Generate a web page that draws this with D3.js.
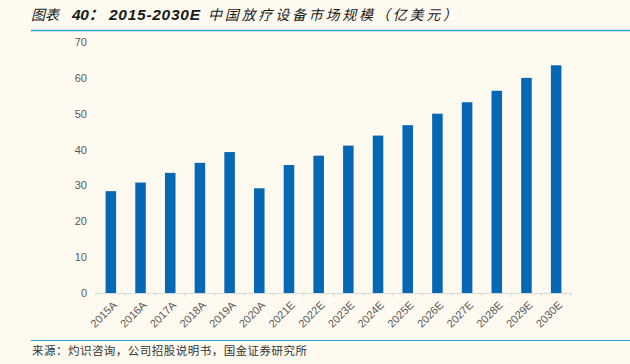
<!DOCTYPE html>
<html><head><meta charset="utf-8">
<script src="https://cdn.jsdelivr.net/npm/d3@7"></script>
<style>
body{margin:0;background:#fefaf0;}
svg{display:block;}
</style></head>
<body>
<svg id="c" width="630" height="364"></svg>
<script>
const categories = ["2015A","2016A","2017A","2018A","2019A","2020A","2021E","2022E","2023E","2024E","2025E","2026E","2027E","2028E","2029E","2030E"];
const values = [28.4,30.8,33.5,36.3,39.3,29.2,35.7,38.3,41.1,43.9,46.8,50.0,53.2,56.4,60.0,63.5];
const yTicks = [0,10,20,30,40,50,60,70];
const titleLabel = "图表";
const titleNum = "40：";
const titleYears = "2015-2030E";
const titleMain = "中国放疗设备市场规模（亿美元）";
const sourceText = "来源：灼识咨询，公司招股说明书，国金证券研究所";

const svg = d3.select("#c");
svg.append("rect").attr("width",630).attr("height",364).attr("fill","#fefaf0");

const x = d3.scaleBand().domain(categories).range([96,571]).paddingInner(0.645).paddingOuter(0.3225);
const y = d3.scaleLinear().domain([0,70]).range([293,42]);

// title
const tf = "'Liberation Sans','Noto Sans CJK SC',sans-serif";
function tt(xp, txt, w, fs, len){
  const e = svg.append("text").attr("x",xp).attr("y",20)
    .attr("font-family",tf).attr("font-size",fs).attr("font-style","italic")
    .attr("font-weight",w).attr("fill","#1a1a1a").text(txt);
  if(len) e.attr("textLength",len).attr("lengthAdjust","spacing");
}
tt(31, titleLabel, "normal", 14, 28);
tt(72, titleNum, "bold", 15.5, 32);
tt(109, titleYears, "bold", 15.5, 91);
tt(208, titleMain, "normal", 14, 249);
svg.append("line").attr("x1",31).attr("x2",630).attr("y1",30.5).attr("y2",30.5)
  .attr("stroke","#2fa0dc").attr("stroke-width",1.5);

// y axis labels
const yAxis = d3.axisLeft(y).tickValues(yTicks).tickSize(0).tickPadding(0);
const gy = svg.append("g").attr("transform","translate(87,0)").call(yAxis);
gy.select(".domain").remove();
gy.selectAll("text").attr("font-family","'Liberation Sans',Arial,sans-serif").attr("font-size",11).attr("fill","#595959");

// bars
svg.append("g").selectAll("rect").data(values).join("rect")
  .attr("x",(d,i)=>x(categories[i]))
  .attr("width",x.bandwidth())
  .attr("y",d=>y(d))
  .attr("height",d=>y(0)-y(d))
  .attr("fill","#0468b4");

// x axis
const xAxis = d3.axisBottom(x).tickSize(0).tickPadding(0);
const gx = svg.append("g").attr("transform","translate(0,293)").call(xAxis);
gx.select(".domain").attr("stroke","#d9d9d9").attr("stroke-width",1.2);
gx.selectAll(".tick line").remove();
const bounds = categories.map(c=>x(c)-x.step()*x.paddingInner()/2).concat([571]);
gx.selectAll("line.bt").data(bounds).join("line").attr("class","bt")
  .attr("x1",d=>d).attr("x2",d=>d).attr("y1",0).attr("y2",4)
  .attr("stroke","#d9d9d9");
gx.selectAll(".tick text")
  .attr("font-family","'Liberation Sans',Arial,sans-serif").attr("font-size",11).attr("fill","#595959")
  .attr("text-anchor","end")
  .attr("transform","translate(4,10) rotate(-45)")
  .attr("dy","0.35em");

// source
svg.append("line").attr("x1",31).attr("x2",630).attr("y1",340.5).attr("y2",340.5)
  .attr("stroke","#2fa0dc").attr("stroke-width",1);
svg.append("text").attr("x",32).attr("y",355)
  .attr("font-family","'Noto Sans CJK SC',sans-serif").attr("font-size",11.5).attr("fill","#333")
  .attr("textLength",275).attr("lengthAdjust","spacing")
  .text(sourceText);
</script>
</body></html>
